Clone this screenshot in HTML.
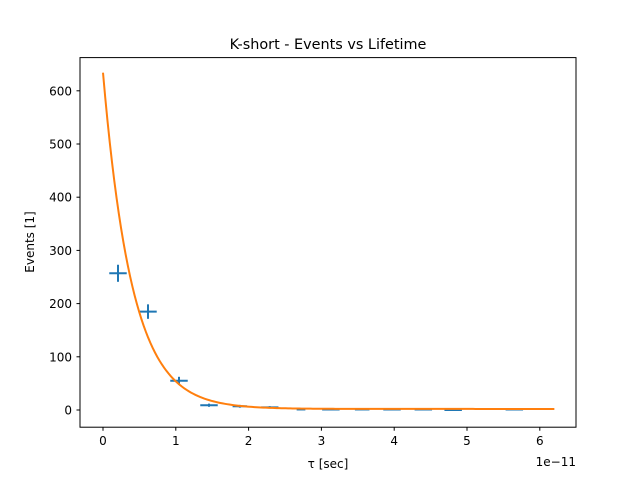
<!DOCTYPE html>
<html><head><meta charset="utf-8"><style>
body{margin:0;background:#fff}
svg text{font-family:"DejaVu Sans","Liberation Sans",sans-serif;fill:#000}
</style></head><body>
<svg id="chart" width="640" height="480" xmlns="http://www.w3.org/2000/svg">
<rect width="640" height="480" fill="#fff"/>
<text x="328" y="49" font-size="14.4" text-anchor="middle">K-short - Events vs Lifetime</text>
<g id="plot"></g>
<rect x="80" y="57.6" width="496" height="369.6" fill="none" stroke="#000" stroke-width="1"/>
<text x="328" y="468" font-size="12" text-anchor="middle">τ [sec]</text>
<text x="576" y="466" font-size="12" text-anchor="end">1e−11</text>
<text transform="translate(34,242) rotate(-90)" font-size="12" text-anchor="middle">Events [1]</text>
</svg>
<script>
const tauCenters=[0.206,0.618,1.044,1.456,1.88,2.29,2.72,3.13,3.56,3.97,4.40,4.81,5.65];
const events=[257,185,55,9,7,5,1,1,1,1,1,0,1];
const tauErr=[0.12,0.12,0.12,0.12,0.1,0.12,0.06,0.12,0.1,0.12,0.12,0.12,0.12];
const xTicks=[0,1,2,3,4,5,6];
const yTicks=[0,100,200,300,400,500,600];
const fitParams=[632,0.40,2];
const fitRange=[0,6.2];
const NS="http://www.w3.org/2000/svg";
const X=v=>103+v*72.8;
const Y=v=>410-v*0.532;
const g=document.getElementById('plot');
function mk(t,a){const e=document.createElementNS(NS,t);for(const k in a)e.setAttribute(k,a[k]);g.appendChild(e);return e;}
xTicks.forEach(t=>{
 const l=mk('line',{x1:X(t),x2:X(t),y1:427.2,y2:430.7,stroke:'#000'});
 
 
 const tx=mk('text',{x:X(t),y:445,'font-size':12,'text-anchor':'middle'});tx.textContent=t;
 
 
});
yTicks.forEach(t=>{
 const l=mk('line',{x1:76.5,x2:80,y1:Y(t),y2:Y(t),stroke:'#000'});
 
 
 const tx=mk('text',{x:72,y:Y(t)+4.5,'font-size':12,'text-anchor':'end'});tx.textContent=t;
 
 
});
tauCenters.forEach((t,i)=>{
 const ye=Math.sqrt(events[i]);
 const h=mk('line',{x1:X(t-tauErr[i]),x2:X(t+tauErr[i]),y1:Y(events[i]),y2:Y(events[i]),stroke:'#1f77b4','stroke-width':2});
 
 
 const v=mk('line',{x1:X(t),x2:X(t),y1:Y(events[i]-ye),y2:Y(events[i]+ye),stroke:'#1f77b4','stroke-width':2});
 
 
});
let d='';
for(let i=0;i<=200;i++){const t=fitRange[0]+(fitRange[1]-fitRange[0])*i/200;const v=fitParams[0]*Math.exp(-t/fitParams[1])+fitParams[2];d+=(i?'L':'M')+X(t).toFixed(2)+','+Y(v).toFixed(2);}
const p=mk('path',{d:d,fill:'none',stroke:'#ff7f0e','stroke-width':2});


</script>
</body></html>
